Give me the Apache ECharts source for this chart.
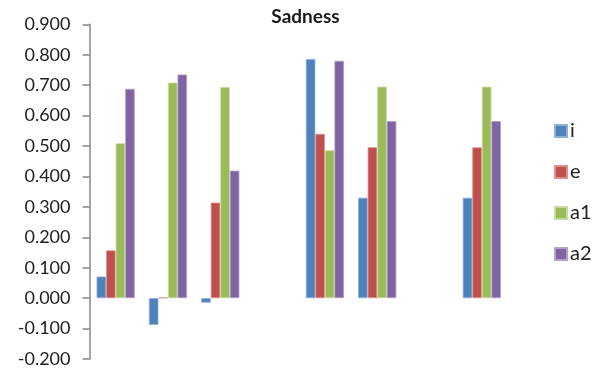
<!DOCTYPE html>
<html>
<head>
<meta charset="utf-8">
<script src="https://cdn.jsdelivr.net/npm/echarts@6/dist/echarts.min.js"></script>
<style>
  html, body { margin: 0; padding: 0; background: #fff; }
  #chart { width: 611px; height: 369px; }
</style>
</head>
<body>
<div id="chart"></div>
<script>
// Eight category slots; slots 4 and 7 carry no data
const categories = ['1', '2', '3', '4', '5', '6', '7', '8'];
const seriesNames = ['i', 'e', 'a1', 'a2'];
const valuesI  = [0.071, -0.088, -0.015, null, 0.786, 0.330, null, 0.330];
const valuesE  = [0.157, 0.002, 0.314, null, 0.540, 0.496, null, 0.496];
const valuesA1 = [0.509, 0.708, 0.694, null, 0.486, 0.695, null, 0.695];
const valuesA2 = [0.688, 0.735, 0.419, null, 0.780, 0.582, null, 0.582];
const yTicks = { min: -0.2, max: 0.9, step: 0.1 };

const colors = ['#4F81BD', '#C0504D', '#9BBB59', '#8064A2'];
const borders = ['#8FB0D8', '#DA9391', '#C6DA9E', '#B4A2CB'];
const allValues = [valuesI, valuesE, valuesA1, valuesA2];
const font = 'Lato, "Liberation Sans", sans-serif';

const chart = echarts.init(document.getElementById('chart'), null, { renderer: 'canvas' });
chart.setOption({
  animation: false,
  title: {
    text: 'Sadness',
    left: 'center', top: 2,
    textStyle: { fontFamily: font, fontSize: 19, fontWeight: 'bold', color: '#1a1a1a' }
  },
  legend: {
    orient: 'vertical',
    left: 549, top: 116,
    itemWidth: 12, itemHeight: 12, itemGap: 21,
    icon: 'rect',
    data: seriesNames,
    textStyle: { fontFamily: font, fontSize: 20, color: '#222', padding: [0, 0, 0, -2] }
  },
  grid: { left: 89.5, right: 103, top: 24.3, bottom: 10, containLabel: false },
  xAxis: {
    type: 'category',
    data: categories,
    axisLine: { show: false },
    axisTick: { show: false },
    axisLabel: { show: false },
    splitLine: { show: false }
  },
  yAxis: {
    type: 'value',
    min: yTicks.min, max: yTicks.max, interval: yTicks.step,
    axisLine: { show: true, lineStyle: { color: '#868686', width: 1.5 } },
    axisTick: { show: true, length: 7, lineStyle: { color: '#868686', width: 1.5 } },
    splitLine: { show: false },
    axisLabel: {
      margin: 19,
      fontFamily: font, fontSize: 18, color: '#222',
      formatter: v => v.toFixed(3)
    }
  },
  series: seriesNames.map((name, k) => ({
    name,
    type: 'bar',
    data: allValues[k],
    barGap: '0%',
    barCategoryGap: '27%',
    itemStyle: { color: colors[k], borderColor: borders[k], borderWidth: 0.8 }
  }))
});
</script>
</body>
</html>
